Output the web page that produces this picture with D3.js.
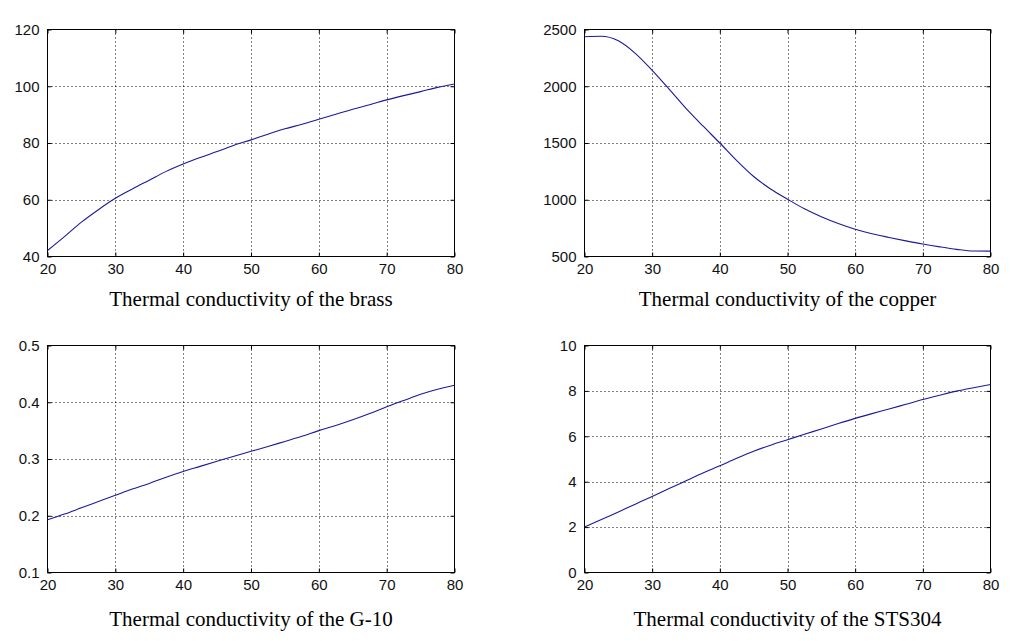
<!DOCTYPE html>
<html>
<head>
<meta charset="utf-8">
<script src="https://cdn.jsdelivr.net/npm/d3@7"></script>
<style>
  html, body { margin: 0; padding: 0; background: #fff; }
  svg { display: block; }
</style>
</head>
<body>
<svg id="chart" width="1016" height="641"></svg>
<script>
// ---- data ----
const temps = [20, 22.5, 25, 27.5, 30, 32.5, 35, 37.5, 40, 42.5, 45, 47.5, 50,
               52.5, 55, 57.5, 60, 62.5, 65, 67.5, 70, 72.5, 75, 77.5, 80];
const brass = [42.1, 47.0, 52.1, 56.5, 60.5, 63.8, 66.9, 70.0, 72.6, 74.9, 77.0, 79.2, 81.1,
               83.1, 85.0, 86.6, 88.4, 90.1, 91.9, 93.5, 95.2, 96.7, 98.1, 99.6, 100.8];
const copper = [2436, 2440, 2400, 2290, 2140, 1975, 1805, 1650, 1500, 1345, 1205, 1095, 1005,
                920, 850, 790, 740, 700, 668, 638, 610, 585, 563, 548, 547];
const g10 = [0.193, 0.203, 0.214, 0.225, 0.236, 0.247, 0.257, 0.268, 0.278, 0.287, 0.296, 0.305, 0.3135,
             0.322, 0.331, 0.340, 0.350, 0.359, 0.369, 0.380, 0.392, 0.403, 0.414, 0.423, 0.430];
const sts304 = [2.0, 2.33, 2.67, 3.01, 3.35, 3.70, 4.04, 4.38, 4.70, 5.03, 5.34, 5.61, 5.85,
                6.09, 6.32, 6.56, 6.79, 7.00, 7.20, 7.41, 7.62, 7.81, 7.99, 8.14, 8.28];

const xTicks = [20, 30, 40, 50, 60, 70, 80];
const brassTicks = [40, 60, 80, 100, 120];
const copperTicks = [500, 1000, 1500, 2000, 2500];
const g10Ticks = [0.1, 0.2, 0.3, 0.4, 0.5];
const stsTicks = [0, 2, 4, 6, 8, 10];

const titles = [
  "Thermal conductivity of the brass",
  "Thermal conductivity of the copper",
  "Thermal conductivity of the G-10",
  "Thermal conductivity of the STS304"
];

// ---- layout ----
const cols = [[47.5, 454.5], [584.5, 990.5]];
const rows = [[29.5, 256.5], [345.5, 572.5]];
const titleY = [306, 626];

const panels = [
  { values: brass,  yTicks: brassTicks,  title: titles[0], col: 0, row: 0 },
  { values: copper, yTicks: copperTicks, title: titles[1], col: 1, row: 0 },
  { values: g10,    yTicks: g10Ticks,    title: titles[2], col: 0, row: 1 },
  { values: sts304, yTicks: stsTicks,    title: titles[3], col: 1, row: 1 }
];

const svg = d3.select("#chart");
svg.append("rect").attr("width", 1016).attr("height", 641).attr("fill", "#fff");

const tickFont = "'Liberation Sans', Arial, sans-serif";
const tickSize = 15;
const tickLen = 4;

panels.forEach(p => {
  const [x0, x1] = cols[p.col];
  const [y0, y1] = rows[p.row];
  const yExt = d3.extent(p.yTicks);
  const x = d3.scaleLinear().domain([20, 80]).range([x0, x1]);
  const y = d3.scaleLinear().domain(yExt).range([y1, y0]);

  const g = svg.append("g");

  // grid
  const gridX = xTicks.slice(1, -1);
  const gridY = p.yTicks.slice(1, -1);
  g.selectAll(".gx").data(gridX).enter().append("line")
    .attr("x1", d => Math.round(x(d)) + 0.5).attr("x2", d => Math.round(x(d)) + 0.5)
    .attr("y1", y0).attr("y2", y1)
    .attr("stroke", "#000").attr("stroke-width", 1).attr("stroke-dasharray", "1,3");
  g.selectAll(".gy").data(gridY).enter().append("line")
    .attr("y1", d => Math.round(y(d)) + 0.5).attr("y2", d => Math.round(y(d)) + 0.5)
    .attr("x1", x0).attr("x2", x1)
    .attr("stroke", "#000").attr("stroke-width", 1).attr("stroke-dasharray", "1,3");

  // axes with inward ticks
  const axB = d3.axisBottom(x).tickValues(xTicks).tickSize(-tickLen).tickPadding(7).tickFormat(d3.format("d"));
  const axT = d3.axisTop(x).tickValues(xTicks).tickSize(-tickLen).tickFormat("");
  const axL = d3.axisLeft(y).tickValues(p.yTicks).tickSize(-tickLen).tickPadding(8).tickFormat(d => String(d));
  const axR = d3.axisRight(y).tickValues(p.yTicks).tickSize(-tickLen).tickFormat("");

  const styleAxis = sel => {
    sel.select(".domain").remove();
    sel.selectAll("line").attr("stroke", "#000");
    sel.selectAll("text").attr("font-family", tickFont).attr("font-size", tickSize).attr("fill", "#111");
  };
  g.append("g").attr("transform", `translate(0,${y1})`).call(axB).call(styleAxis);
  g.append("g").attr("transform", `translate(0,${y0})`).call(axT).call(styleAxis);
  g.append("g").attr("transform", `translate(${x0},0)`).call(axL).call(styleAxis);
  g.append("g").attr("transform", `translate(${x1},0)`).call(axR).call(styleAxis);

  // box
  g.append("rect").attr("x", x0).attr("y", y0).attr("width", x1 - x0).attr("height", y1 - y0)
    .attr("fill", "none").attr("stroke", "#000").attr("stroke-width", 1);

  // curve
  const line = d3.line().x((d, i) => x(temps[i])).y(d => y(d)).curve(d3.curveMonotoneX);
  g.append("path").datum(p.values).attr("d", line)
    .attr("fill", "none").attr("stroke", "#1a1a9a").attr("stroke-width", 1.1);

  // title
  g.append("text").attr("x", (x0 + x1) / 2).attr("y", titleY[p.row])
    .attr("text-anchor", "middle")
    .attr("font-family", "'Liberation Serif', 'Times New Roman', serif")
    .attr("font-size", 21).attr("fill", "#000")
    .text(p.title);
});
</script>
</body>
</html>
